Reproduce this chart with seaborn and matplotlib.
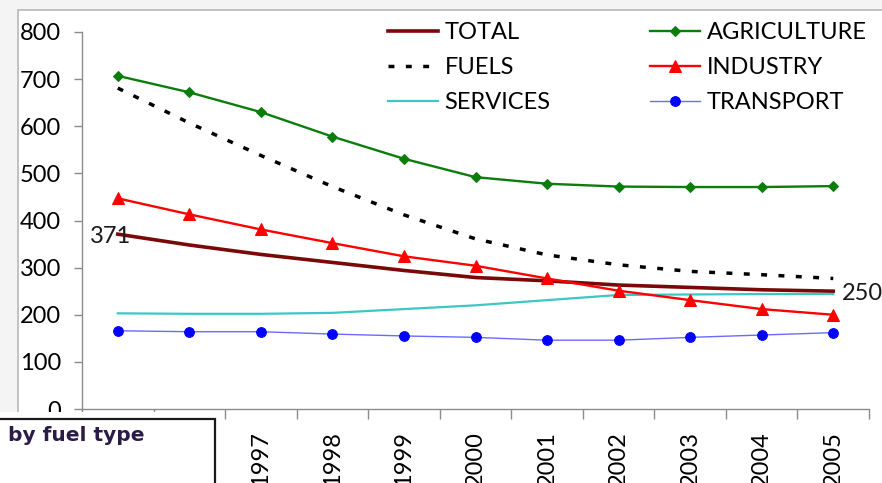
import matplotlib
matplotlib.use("Agg")
import matplotlib.pyplot as plt
from matplotlib.patches import Rectangle
import pandas as pd
import seaborn as sns

# Energy consumption by sector, 1995-2005
years = [1995, 1996, 1997, 1998, 1999, 2000, 2001, 2002, 2003, 2004, 2005]
total = [371, 348, 328, 311, 294, 279, 272, 263, 258, 253, 250]
fuels = [681, 607, 538, 472, 412, 361, 327, 306, 292, 285, 277]
services = [203, 202, 202, 204, 212, 220, 231, 242, 243, 244, 244]
agriculture = [707, 672, 630, 578, 531, 492, 478, 472, 471, 471, 473]
industry = [447, 413, 381, 352, 324, 304, 277, 251, 231, 212, 200]
transport = [166, 164, 164, 159, 155, 152, 146, 146, 152, 157, 162]
y_ticks = [0, 100, 200, 300, 400, 500, 600, 700, 800]

W, H = 882, 483
plt.rcParams["font.family"] = ["Lato", "DejaVu Sans"]

fig = plt.figure(figsize=(W / 100, H / 100), dpi=100, facecolor="#f4f4f4")


def fx(px):
    return px / W


def fy(py):
    return 1 - py / H


# white chart area with grey border
fig.add_artist(Rectangle((fx(18), fy(600)), fx(900), 590 / H,
                         transform=fig.transFigure, facecolor="white",
                         edgecolor="#b8b8b8", linewidth=1.2, zorder=-1))

ax = fig.add_axes([fx(82), fy(409), fx(869) - fx(82), (409 - 32) / H])
ax.set_facecolor("none")

pos = list(range(len(years)))
df = pd.DataFrame({"pos": pos, "TOTAL": total, "FUELS": fuels,
                   "SERVICES": services, "AGRICULTURE": agriculture,
                   "INDUSTRY": industry, "TRANSPORT": transport})

sns.lineplot(data=df, x="pos", y="TOTAL", ax=ax, color="#7a0808", lw=2.6,
             label="TOTAL")
sns.lineplot(data=df, x="pos", y="FUELS", ax=ax, color="black", lw=2.5,
             linestyle=(0, (1.7, 3.3)), label="FUELS")
sns.lineplot(data=df, x="pos", y="SERVICES", ax=ax, color="#3cc8c2", lw=1.6,
             label="SERVICES")
sns.lineplot(data=df, x="pos", y="AGRICULTURE", ax=ax, color="#0a7d0a",
             lw=1.7, marker="D", markersize=5.5, markeredgecolor="#0a7d0a",
             label="AGRICULTURE")
sns.lineplot(data=df, x="pos", y="INDUSTRY", ax=ax, color="#ff0000", lw=1.7,
             marker="^", markersize=8.5, markeredgecolor="#ff0000",
             label="INDUSTRY")
sns.lineplot(data=df, x="pos", y="TRANSPORT", ax=ax, color="#6a6aff", lw=1.0,
             marker="o", markersize=7, markerfacecolor="#0000ff",
             markeredgecolor="#0000ff", label="TRANSPORT")

ax.set_xlim(-0.5, len(years) - 0.5)
ax.set_ylim(0, 800)
ax.set_xlabel("")
ax.set_ylabel("")

for side in ("top", "right"):
    ax.spines[side].set_visible(False)
for side in ("left", "bottom"):
    ax.spines[side].set_color("#8c8c8c")
    ax.spines[side].set_linewidth(1.0)

ax.set_yticks(y_ticks)
ax.set_yticklabels([str(v) for v in y_ticks])
ax.tick_params(axis="y", length=6, width=1, color="#8c8c8c", pad=9,
               labelsize=17, labelcolor="black")
ax.set_xticks(pos)
ax.set_xticklabels([str(y) for y in years], rotation=90, va="top")
ax.tick_params(axis="x", which="major", length=0, pad=16, labelsize=17,
               labelcolor="black")
ax.set_xticks([p - 0.5 for p in pos] + [pos[-1] + 0.5], minor=True)
ax.tick_params(axis="x", which="minor", length=7, width=1, color="#8c8c8c")

# end-point value labels
ax.annotate(str(total[0]), (pos[0], total[0]), xytext=(-5.5, -1.5),
            textcoords="offset points", ha="center", va="center",
            fontsize=17, color="#1a1a1a")
ax.annotate(str(total[-1]), (pos[-1], total[-1]), xytext=(6.5, -1.5),
            textcoords="offset points", ha="left", va="center",
            fontsize=17, color="#1a1a1a")

handles, labels = ax.get_legend_handles_labels()
ax.legend(handles, labels, ncol=2, loc="upper left",
          bbox_to_anchor=(fx(388), fy(22)), bbox_transform=fig.transFigure,
          frameon=False, fontsize=17, borderpad=0, borderaxespad=0,
          handlelength=2.1, handletextpad=0.3, labelspacing=0.6,
          columnspacing=4.2)

# caption box in the lower-left corner: white margin, then a dark frame
fig.add_artist(Rectangle((fx(-3), fy(490)), fx(222), (490 - 412) / H,
                         transform=fig.transFigure, facecolor="white",
                         edgecolor="none", zorder=10))
fig.add_artist(Rectangle((fx(-3), fy(490)), fx(218), (490 - 419) / H,
                         transform=fig.transFigure, facecolor="white",
                         edgecolor="#1a1a1a", linewidth=1.6, zorder=11))
fig.text(fx(8), fy(441), "by fuel type", fontsize=14.5, fontweight="bold",
         family="DejaVu Sans", color="#2b1b47", va="baseline", ha="left",
         zorder=12)

fig.savefig("out.png", dpi=100, facecolor=fig.get_facecolor())
